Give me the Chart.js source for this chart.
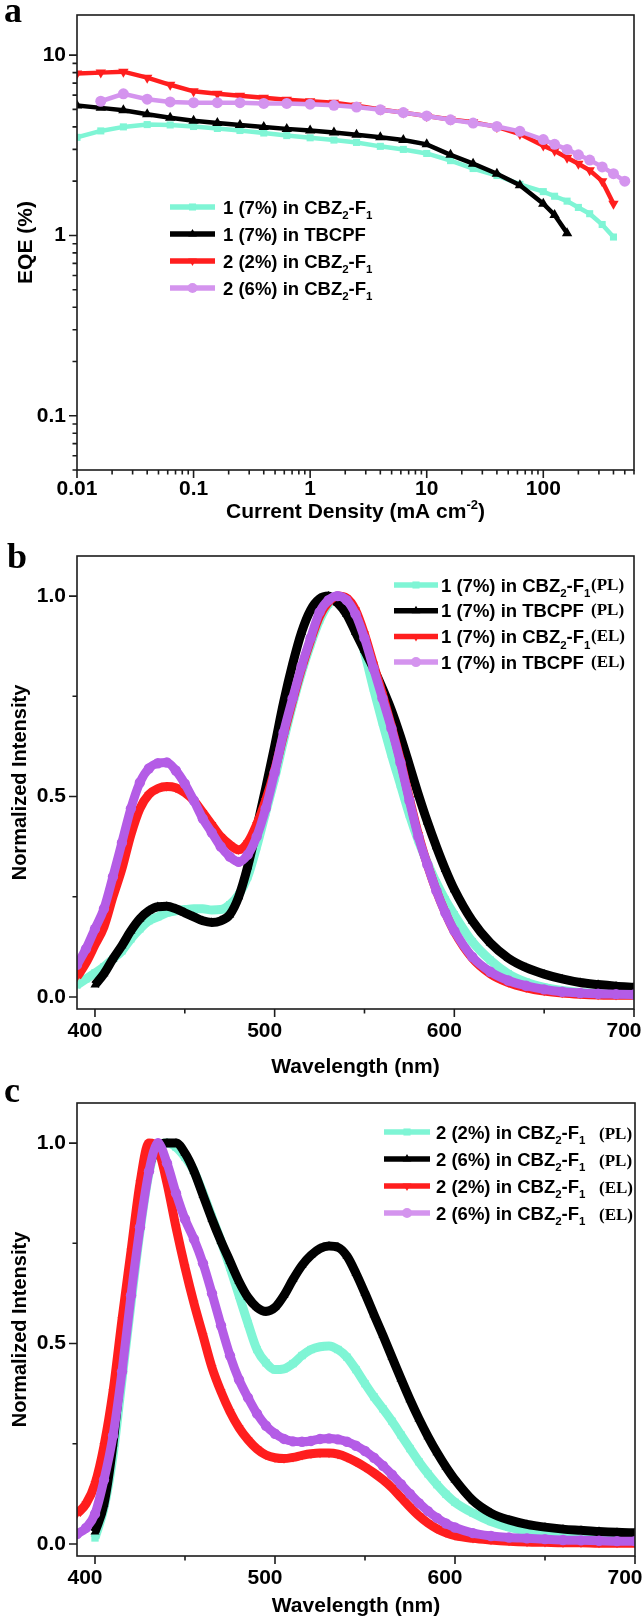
<!DOCTYPE html>
<html>
<head>
<meta charset="utf-8">
<title>EQE and normalized PL/EL spectra</title>
<script src="https://cdn.jsdelivr.net/npm/chart.js@4.4.1/dist/chart.umd.min.js"></script>
<style>
  html, body { margin: 0; padding: 0; background: #fff; }
  canvas { display: block; }
</style>
</head>
<body>
<canvas id="panel-a" width="642" height="535"></canvas>
<canvas id="panel-b" width="642" height="545"></canvas>
<canvas id="panel-c" width="642" height="540"></canvas>
<script>
"use strict";
const SANS = "'Liberation Sans', Arial, sans-serif";
const SERIF = "'Liberation Serif', 'Times New Roman', serif";

const CYAN = "#7ff5d5";
const BLACK = "#000000";
const RED = "#ff1e1e";
const VIOLET = "#b45ce6";
const VIOLET_LIGHT = "#d494ee";

// ---- panel a: EQE (%) vs current density (mA cm-2) ----
const aCurrent = [0.01, 0.016, 0.025, 0.04, 0.063, 0.1, 0.16, 0.25, 0.4, 0.63, 1, 1.6, 2.5, 4, 6.3, 10, 16, 25, 40, 63, 100, 125, 160, 200, 250, 320, 400, 500];
const aEqeCyan = [3.5, 3.8, 4.0, 4.12, 4.1, 4.02, 3.92, 3.82, 3.7, 3.58, 3.48, 3.38, 3.28, 3.12, 3.0, 2.85, 2.6, 2.35, 2.15, 1.92, 1.75, 1.65, 1.55, 1.43, 1.32, 1.15, 0.98, null];
const aEqeBlack = [5.25, 5.1, 4.95, 4.7, 4.5, 4.33, 4.2, 4.1, 4.0, 3.9, 3.82, 3.72, 3.62, 3.5, 3.38, 3.2, 2.8, 2.5, 2.2, 1.9, 1.5, 1.3, 1.03, null, null, null, null, null];
const aEqeRed = [7.9, 8.0, 8.1, 7.5, 6.85, 6.3, 6.1, 5.95, 5.8, 5.65, 5.55, 5.45, 5.25, 5.0, 4.8, 4.6, 4.4, 4.25, 4.0, 3.65, 3.15, 2.95, 2.7, 2.5, 2.3, 2.0, 1.5, null];
const aEqeViolet = [null, 5.55, 6.1, 5.7, 5.5, 5.45, 5.45, 5.45, 5.4, 5.4, 5.35, 5.27, 5.15, 4.98, 4.8, 4.6, 4.38, 4.2, 4.02, 3.78, 3.4, 3.2, 3.0, 2.8, 2.62, 2.4, 2.2, 2.0];
const aLabels = ["1 (7%) in CBZ_{2}-F_{1}", "1 (7%) in TBCPF", "2 (2%) in CBZ_{2}-F_{1}", "2 (6%) in CBZ_{2}-F_{1}"];
const aXTicks = [0.01, 0.1, 1, 10, 100];
const aXTickLabels = ["0.01", "0.1", "1", "10", "100"];
const aYTicks = [0.1, 1, 10];
const aYTickLabels = ["0.1", "1", "10"];

// ---- panels b and c: normalized intensity vs wavelength (nm) ----
const wavelength = [390, 395, 400, 405, 410, 415, 420, 425, 430, 435, 440, 445, 450, 455, 460, 465, 470, 475, 480, 485, 490, 495, 500, 505, 510, 515, 520, 525, 530, 535, 540, 545, 550, 555, 560, 565, 570, 575, 580, 585, 590, 595, 600, 610, 620, 630, 640, 650, 660, 670, 680, 690, 700];

const bPlCbz = [0.03, 0.045, 0.06, 0.075, 0.095, 0.115, 0.145, 0.17, 0.19, 0.2,
  0.21, 0.215, 0.218, 0.22, 0.22, 0.217, 0.218, 0.23, 0.255, 0.3,
  0.375, 0.46, 0.545, 0.64, 0.73, 0.81, 0.88, 0.94, 0.98, 1.0,
  0.985, 0.935, 0.86, 0.77, 0.685, 0.605, 0.53, 0.455, 0.39, 0.335,
  0.285, 0.242, 0.205,
  0.138, 0.092, 0.058, 0.037, 0.024, 0.016, 0.011, 0.008, 0.006, 0.005];
const bPlTbcpf = [null, null, 0.03, 0.058, 0.095, 0.128, 0.165, 0.195, 0.215, 0.225,
  0.226, 0.22, 0.21, 0.2, 0.19, 0.186, 0.19, 0.205, 0.25, 0.325,
  0.42, 0.52, 0.625, 0.735, 0.83, 0.91, 0.965, 0.993, 1.0, 0.983,
  0.955, 0.91, 0.865, 0.82, 0.77, 0.715, 0.65, 0.578, 0.505, 0.437,
  0.375, 0.318, 0.268,
  0.19, 0.135, 0.097, 0.073, 0.057, 0.045, 0.036, 0.031, 0.027, 0.024];
const bElCbz = [0.05, 0.085, 0.13, 0.175, 0.25, 0.32, 0.405, 0.47, 0.505, 0.52,
  0.525, 0.522, 0.51, 0.49, 0.46, 0.43, 0.4, 0.38, 0.367, 0.385,
  0.43, 0.49, 0.565, 0.655, 0.74, 0.82, 0.89, 0.95, 0.985, 1.0,
  0.995, 0.965, 0.905, 0.83, 0.755, 0.675, 0.59, 0.495, 0.405, 0.33,
  0.265, 0.21, 0.163,
  0.097, 0.058, 0.036, 0.023, 0.015, 0.01, 0.007, 0.005, 0.004, 0.004];
const bElTbcpf = [0.08, 0.12, 0.17, 0.22, 0.3, 0.385, 0.47, 0.535, 0.57, 0.583,
  0.585, 0.565, 0.532, 0.49, 0.445, 0.41, 0.375, 0.35, 0.337, 0.355,
  0.4, 0.47, 0.56, 0.66, 0.745, 0.825, 0.895, 0.96, 0.99, 1.0,
  0.99, 0.955, 0.895, 0.82, 0.745, 0.67, 0.585, 0.49, 0.4, 0.33,
  0.265, 0.21, 0.165,
  0.1, 0.063, 0.041, 0.028, 0.019, 0.013, 0.01, 0.008, 0.007, 0.006];
const bLabels = ["1 (7%) in CBZ_{2}-F_{1}", "1 (7%) in TBCPF", "1 (7%) in CBZ_{2}-F_{1}", "1 (7%) in TBCPF"];

const cPl2 = [null, null, 0.015, 0.09, 0.22, 0.41, 0.6, 0.78, 0.925, 0.995,
  1.0, 0.99, 0.965, 0.93, 0.875, 0.815, 0.755, 0.69, 0.62, 0.55,
  0.485, 0.452, 0.435, 0.437, 0.45, 0.47, 0.485, 0.492, 0.494, 0.485,
  0.466, 0.435, 0.4, 0.367, 0.337, 0.306, 0.272, 0.238, 0.205, 0.175,
  0.148, 0.124, 0.104,
  0.077, 0.056, 0.042, 0.032, 0.025, 0.02, 0.016, 0.014, 0.012, 0.01];
const cPl6 = [null, null, 0.03, 0.1, 0.25, 0.46, 0.66, 0.82, 0.94, 0.99,
  1.0, 1.0, 0.975, 0.93, 0.87, 0.81, 0.755, 0.705, 0.655, 0.615,
  0.59, 0.58, 0.59, 0.62, 0.66, 0.695, 0.72, 0.737, 0.743, 0.74,
  0.718, 0.675, 0.625, 0.572, 0.52, 0.466, 0.412, 0.36, 0.312, 0.268,
  0.228, 0.192, 0.16,
  0.108, 0.077, 0.06, 0.049, 0.042, 0.037, 0.034, 0.031, 0.029, 0.028];
const cEl2 = [0.075, 0.1, 0.15, 0.245, 0.38, 0.56, 0.73, 0.9, 1.0, 0.985,
  0.9, 0.79, 0.69, 0.6, 0.52, 0.44, 0.38, 0.33, 0.29, 0.26,
  0.237, 0.222, 0.215, 0.213, 0.216, 0.221, 0.225, 0.227, 0.227, 0.224,
  0.216, 0.205, 0.192, 0.177, 0.16, 0.14, 0.116, 0.092, 0.07, 0.052,
  0.038, 0.028, 0.021,
  0.014, 0.01, 0.007, 0.005, 0.004, 0.003, 0.003, 0.002, 0.002, 0.002];
const cEl6 = [0.025, 0.04, 0.075, 0.16, 0.27, 0.43, 0.62, 0.79, 0.93, 1.0,
  0.95, 0.875, 0.81, 0.76, 0.7, 0.625, 0.545, 0.47, 0.41, 0.365,
  0.325, 0.295, 0.275, 0.262, 0.256, 0.255, 0.257, 0.262, 0.263, 0.261,
  0.255, 0.245, 0.232, 0.215, 0.195, 0.173, 0.149, 0.125, 0.102, 0.082,
  0.065, 0.051, 0.041,
  0.027, 0.02, 0.016, 0.014, 0.012, 0.01, 0.009, 0.008, 0.007, 0.007];
const cLabels = ["2 (2%) in CBZ_{2}-F_{1}", "2 (6%) in CBZ_{2}-F_{1}", "2 (2%) in CBZ_{2}-F_{1}", "2 (6%) in CBZ_{2}-F_{1}"];

const specTags = ["(PL)", "(PL)", "(EL)", "(EL)"];
const specXTicks = [400, 500, 600, 700];
const specXTickLabels = ["400", "500", "600", "700"];
const specYTicks = [0, 0.5, 1];
const specYTickLabels = ["0.0", "0.5", "1.0"];

// text with _{sub} and ^{sup} parts
function drawRich(ctx, text, x, y, size, family, measureOnly) {
  const parts = text.split(/([_^])\{(.*?)\}/);
  for (let i = 0; i < parts.length; i++) {
    if (i % 3 === 1) continue;
    let fs = size;
    let dy = 0;
    if (i % 3 === 2) {
      fs = size * 0.62;
      dy = parts[i - 1] === "_" ? size * 0.3 : -size * 0.45;
    }
    ctx.font = "bold " + fs + "px " + family;
    if (!measureOnly) ctx.fillText(parts[i], x, y + dy);
    x += ctx.measureText(parts[i]).width;
  }
  return x;
}

function logMinor(min, max) {
  const out = [];
  for (let e = Math.floor(Math.log10(min)); e <= Math.ceil(Math.log10(max)); e++) {
    for (let m = 2; m <= 9; m++) {
      const v = m * Math.pow(10, e);
      if (v >= min && v <= max) out.push(v);
    }
  }
  return out;
}

function decor(o) {
  return {
    id: "decor",
    afterDraw(chart) {
      const ctx = chart.ctx;
      const area = chart.chartArea;
      const xs = chart.scales.x;
      const ys = chart.scales.y;
      ctx.save();
      ctx.strokeStyle = "#1c1c1c";
      ctx.lineWidth = 1.6;
      ctx.strokeRect(area.left, area.top, area.right - area.left, area.bottom - area.top);

      ctx.beginPath();
      const tickX = (vals, len) => vals.forEach((v) => {
        const p = xs.getPixelForValue(v);
        ctx.moveTo(p, area.bottom);
        ctx.lineTo(p, area.bottom + len);
      });
      const tickY = (vals, len) => vals.forEach((v) => {
        const p = ys.getPixelForValue(v);
        ctx.moveTo(area.left, p);
        ctx.lineTo(area.left - len, p);
      });
      tickX(o.xTicks, 8);
      tickX(o.xMinor, 4.5);
      tickY(o.yTicks, 8);
      tickY(o.yMinor, 4.5);
      ctx.stroke();

      ctx.fillStyle = "#000";
      ctx.textAlign = "left";
      ctx.textBaseline = "alphabetic";
      ctx.font = "bold 36px " + SERIF;
      ctx.fillText(o.letter, o.letterX, o.letterY);

      if (o.richTitle) {
        const w = drawRich(ctx, o.richTitle, 0, 0, 21, SANS, true);
        drawRich(ctx, o.richTitle, (area.left + area.right) / 2 - w / 2, o.richTitleY, 21, SANS);
      }

      const lg = o.legend;
      chart.data.datasets.forEach((ds, i) => {
        const y = lg.y0 + i * lg.dy;
        const col = lg.colors[i];
        ctx.strokeStyle = col;
        ctx.lineWidth = 5.5;
        ctx.beginPath();
        ctx.moveTo(lg.x, y);
        ctx.lineTo(lg.x + lg.len, y);
        ctx.stroke();
        ctx.fillStyle = col;
        Chart.helpers.drawPoint(ctx, {
          pointStyle: ds.pointStyle,
          rotation: ds.pointRotation || 0,
          radius: 5,
          borderWidth: 0
        }, lg.x + lg.len / 2, y);
        ctx.fillStyle = "#000";
        const base = y + lg.size * 0.36;
        drawRich(ctx, lg.labels[i], lg.tx, base, lg.size, SANS);
        if (lg.tags) {
          ctx.font = "bold 17px " + SERIF;
          ctx.fillText(lg.tags[i], lg.sx, base + lg.tagDy);
        }
      });
      ctx.restore();
    }
  };
}

function fixedTicks(values) {
  return (scale) => {
    scale.ticks = values.map((v) => ({ value: v }));
  };
}

function fitScale(size, horizontal) {
  return (scale) => {
    if (horizontal) scale.height = size;
    else scale.width = size;
    scale.paddingLeft = 0;
    scale.paddingRight = 0;
    scale.paddingTop = 0;
    scale.paddingBottom = 0;
  };
}

const tickFont = { family: SANS, size: 21, weight: "bold" };

function buildChart(id, o) {
  return new Chart(document.getElementById(id), {
    type: "line",
    data: { datasets: o.datasets },
    options: {
      responsive: false,
      animation: false,
      devicePixelRatio: 1,
      events: [],
      layout: { padding: { top: o.top, right: o.right, bottom: 0, left: 0 } },
      plugins: { legend: { display: false }, tooltip: { enabled: false } },
      scales: {
        x: {
          type: o.xType,
          min: o.xMin,
          max: o.xMax,
          grid: { display: false, drawTicks: false },
          border: { display: false },
          afterBuildTicks: fixedTicks(o.xTicks),
          afterFit: fitScale(o.xHeight, true),
          ticks: {
            autoSkip: false, maxRotation: 0, padding: o.xPad, labelOffset: o.xLabelOffset,
            color: "#000", font: tickFont,
            callback: (v, i) => o.xTickLabels[i]
          },
          title: o.xTitle
            ? { display: true, text: o.xTitle, color: "#000", font: { family: SANS, size: 21, weight: "bold" }, padding: { top: 0, bottom: o.xTitlePad } }
            : { display: false }
        },
        y: {
          type: o.yType,
          min: o.yMin,
          max: o.yMax,
          grid: { display: false, drawTicks: false },
          border: { display: false },
          afterBuildTicks: fixedTicks(o.yTicks),
          afterFit: fitScale(77, false),
          ticks: {
            autoSkip: false, padding: 11, color: "#000", font: tickFont,
            callback: (v, i) => o.yTickLabels[i]
          },
          title: { display: true, text: o.yTitle, color: "#000", font: { family: SANS, size: o.yTitleSize, weight: "bold" }, padding: { top: o.yTitlePad, bottom: 0 } }
        }
      }
    },
    plugins: [decor(o)]
  });
}

function eqeSet(label, values, color, style, rotation, order, radius) {
  return {
    label: label,
    data: aCurrent.map((j, i) => ({ x: j, y: values[i] })),
    borderColor: color,
    backgroundColor: color,
    borderWidth: 4.5,
    pointStyle: style,
    pointRotation: rotation,
    pointRadius: radius,
    pointBorderWidth: 0,
    tension: 0,
    order: order
  };
}

function specSet(label, values, color, style, rotation, order) {
  return {
    label: label,
    data: wavelength.map((w, i) => ({ x: w, y: values[i] })),
    borderColor: color,
    backgroundColor: color,
    borderWidth: 9,
    pointStyle: style,
    pointRotation: rotation,
    pointRadius: 5.2,
    pointBorderWidth: 0,
    cubicInterpolationMode: "monotone",
    order: order
  };
}

buildChart("panel-a", {
  top: 15, right: 8, xHeight: 65,
  xType: "logarithmic", xMin: 0.01, xMax: 600,
  yType: "logarithmic", yMin: 0.05, yMax: 16.7,
  xTicks: aXTicks, xTickLabels: aXTickLabels, xMinor: logMinor(0.01, 600),
  yTicks: aYTicks, yTickLabels: aYTickLabels, yMinor: logMinor(0.05, 16.7),
  xPad: 7, xLabelOffset: 0,
  xTitle: null,
  richTitle: "Current Density (mA cm^{-2})", richTitleY: 518,
  yTitle: "EQE (%)", yTitleSize: 21, yTitlePad: 14,
  letter: "a", letterX: 4, letterY: 22,
  legend: { x: 170, len: 45, tx: 223, y0: 207, dy: 27, size: 18.5, labels: aLabels,
    colors: [CYAN, BLACK, RED, VIOLET_LIGHT] },
  datasets: [
    eqeSet("1 (7%) in CBZ2-F1", aEqeCyan, CYAN, "rect", 0, 3, 5),
    eqeSet("1 (7%) in TBCPF", aEqeBlack, BLACK, "triangle", 0, 2, 6),
    eqeSet("2 (2%) in CBZ2-F1", aEqeRed, RED, "triangle", 180, 1, 6),
    eqeSet("2 (6%) in CBZ2-F1", aEqeViolet, VIOLET_LIGHT, "circle", 0, 0, 5.5)
  ]
});

buildChart("panel-b", {
  top: 21, right: 8, xHeight: 71,
  xType: "linear", xMin: 390, xMax: 700,
  yType: "linear", yMin: -0.03, yMax: 1.1,
  xTicks: specXTicks, xTickLabels: specXTickLabels, xMinor: [450, 550, 650],
  yTicks: specYTicks, yTickLabels: specYTickLabels, yMinor: [0.25, 0.75],
  xPad: 10, xLabelOffset: -10,
  xTitle: "Wavelength (nm)", xTitlePad: 0,
  yTitle: "Normalized Intensity", yTitleSize: 20, yTitlePad: 8.5,
  letter: "b", letterX: 7, letterY: 33,
  legend: { x: 394, len: 44, tx: 441, y0: 50, dy: 25.7, size: 18.5, labels: bLabels,
    tags: specTags, sx: 591, tagDy: -2, colors: [CYAN, BLACK, RED, VIOLET_LIGHT] },
  datasets: [
    specSet("1 (7%) in CBZ2-F1 (PL)", bPlCbz, CYAN, "rect", 0, 3),
    specSet("1 (7%) in TBCPF (PL)", bPlTbcpf, BLACK, "triangle", 0, 2),
    specSet("1 (7%) in CBZ2-F1 (EL)", bElCbz, RED, "triangle", 180, 1),
    specSet("1 (7%) in TBCPF (EL)", bElTbcpf, VIOLET, "circle", 0, 0)
  ]
});

buildChart("panel-c", {
  top: 23, right: 7, xHeight: 64,
  xType: "linear", xMin: 390, xMax: 700,
  yType: "linear", yMin: -0.03, yMax: 1.1,
  xTicks: specXTicks, xTickLabels: specXTickLabels, xMinor: [450, 550, 650],
  yTicks: specYTicks, yTickLabels: specYTickLabels, yMinor: [0.25, 0.75],
  xPad: 10, xLabelOffset: -10,
  xTitle: "Wavelength (nm)", xTitlePad: 1,
  yTitle: "Normalized Intensity", yTitleSize: 20, yTitlePad: 8.5,
  letter: "c", letterX: 4, letterY: 22,
  legend: { x: 384, len: 46, tx: 436, y0: 52, dy: 27, size: 18.5, labels: cLabels,
    tags: specTags, sx: 599, tagDy: 0, colors: [CYAN, BLACK, RED, VIOLET_LIGHT] },
  datasets: [
    specSet("2 (2%) in CBZ2-F1 (PL)", cPl2, CYAN, "rect", 0, 3),
    specSet("2 (6%) in CBZ2-F1 (PL)", cPl6, BLACK, "triangle", 0, 2),
    specSet("2 (2%) in CBZ2-F1 (EL)", cEl2, RED, "triangle", 180, 1),
    specSet("2 (6%) in CBZ2-F1 (EL)", cEl6, VIOLET, "circle", 0, 0)
  ]
});
</script>
</body>
</html>
